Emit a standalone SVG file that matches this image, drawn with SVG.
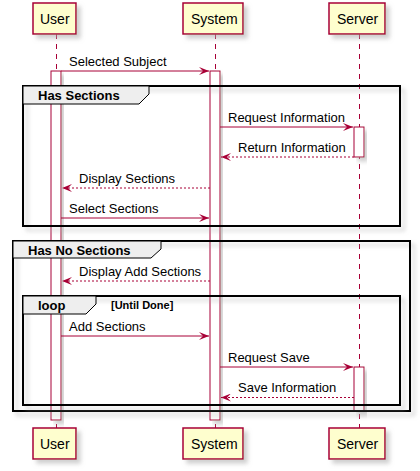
<svg xmlns="http://www.w3.org/2000/svg" width="420" height="471" viewBox="0 0 420 471">
<defs>
<filter id="sh" x="-20%" y="-20%" width="150%" height="150%">
<feGaussianBlur in="SourceAlpha" stdDeviation="2" result="b"/>
<feColorMatrix in="b" type="matrix" values="0 0 0 0 0.4 0 0 0 0 0.4 0 0 0 0 0.4 0 0 0 0.55 0" result="c"/>
<feOffset in="c" dx="4" dy="4" result="o"/>
<feMerge><feMergeNode in="o"/><feMergeNode in="SourceGraphic"/></feMerge>
</filter>
<marker id="ah" viewBox="0 0 10 8" refX="10" refY="4" markerWidth="10" markerHeight="8" markerUnits="userSpaceOnUse" orient="auto">
<polygon points="0,0 10,4 0,8 4,4" fill="#A80036"/>
</marker>
</defs>
<style>
.part rect{fill:#FEFECE;stroke:#A80036;stroke-width:1.5;filter:url(#sh)}
.part text{font-family:"Liberation Sans",Arial,sans-serif;font-size:14px;fill:#000}
.life{stroke:#A80036;stroke-width:1;stroke-dasharray:5,5;fill:none}
.act{fill:#FFFFFF;stroke:#A80036;stroke-width:1;filter:url(#sh)}
.msg{stroke:#A80036;stroke-width:1;fill:none;marker-end:url(#ah)}
.ret{stroke-dasharray:2,2}
.lbl{font-family:"Liberation Sans",Arial,sans-serif;font-size:13px;fill:#000}
.frame{fill:none;stroke:#000;stroke-width:2;filter:url(#sh)}
.tab{fill:#EEEEEE;stroke:#000;stroke-width:1}
.gt{font-family:"Liberation Sans",Arial,sans-serif;font-size:13px;font-weight:bold;fill:#000}
.cond{font-family:"Liberation Sans",Arial,sans-serif;font-size:11px;font-weight:bold;fill:#000}
</style>
<g id="lifelines">
<line class="life" x1="56.5" y1="34" x2="56.5" y2="428"/>
<line class="life" x1="215.5" y1="34" x2="215.5" y2="428"/>
<line class="life" x1="359.5" y1="34" x2="359.5" y2="428"/>
</g>
<g id="activations">
<rect class="act" x="51" y="71" width="10" height="349"/>
<rect class="act" x="210" y="71" width="10" height="349"/>
<rect class="act" x="354" y="127" width="10" height="30"/>
<rect class="act" x="354" y="367" width="10" height="44"/>
</g>
<g id="group-has-sections">
<rect class="frame" x="23" y="86" width="377" height="140"/>
<polygon class="tab" points="23,86 149,86 149,94 139,104 23,104"/>
<text class="gt" x="38" y="100">Has Sections</text>
</g>
<g id="group-has-no-sections">
<rect class="frame" x="13" y="241" width="397" height="170"/>
<polygon class="tab" points="13,241 161,241 161,249 151,258 13,258"/>
<text class="gt" x="28" y="255">Has No Sections</text>
</g>
<g id="group-loop">
<rect class="frame" x="23" y="296" width="377" height="109"/>
<polygon class="tab" points="23,296 96,296 96,304 86,314 23,314"/>
<text class="gt" x="38" y="310">loop</text>
<text class="cond" x="111" y="309">[Until Done]</text>
</g>
<g id="connectors">
<line class="msg" x1="61" y1="71" x2="209" y2="71"/>
<text class="lbl" x="69" y="66">Selected Subject</text>
<line class="msg" x1="220" y1="127" x2="353" y2="127"/>
<text class="lbl" x="228" y="122">Request Information</text>
<line class="msg ret" x1="354" y1="157" x2="221" y2="157"/>
<text class="lbl" x="238" y="152">Return Information</text>
<line class="msg ret" x1="210" y1="188" x2="62" y2="188"/>
<text class="lbl" x="79" y="183">Display Sections</text>
<line class="msg" x1="61" y1="218" x2="209" y2="218"/>
<text class="lbl" x="69" y="213">Select Sections</text>
<line class="msg ret" x1="210" y1="281" x2="62" y2="281"/>
<text class="lbl" x="79" y="276">Display Add Sections</text>
<line class="msg" x1="61" y1="336" x2="209" y2="336"/>
<text class="lbl" x="69" y="331">Add Sections</text>
<line class="msg" x1="220" y1="367" x2="353" y2="367"/>
<text class="lbl" x="228" y="362">Request Save</text>
<line class="msg ret" x1="354" y1="397.5" x2="221" y2="397.5"/>
<text class="lbl" x="238" y="392">Save Information</text>
</g>
<g id="user" class="part">
<rect x="33" y="3" width="43" height="31"/>
<text x="40" y="23.5">User</text>
<rect x="33" y="428" width="43" height="31"/>
<text x="40" y="448.5">User</text>
</g>
<g id="system" class="part">
<rect x="183" y="3" width="60" height="31"/>
<text x="191" y="23.5">System</text>
<rect x="183" y="428" width="60" height="31"/>
<text x="191" y="448.5">System</text>
</g>
<g id="server" class="part">
<rect x="329" y="3" width="56" height="31"/>
<text x="337" y="23.5">Server</text>
<rect x="329" y="428" width="56" height="31"/>
<text x="337" y="448.5">Server</text>
</g>
</svg>
